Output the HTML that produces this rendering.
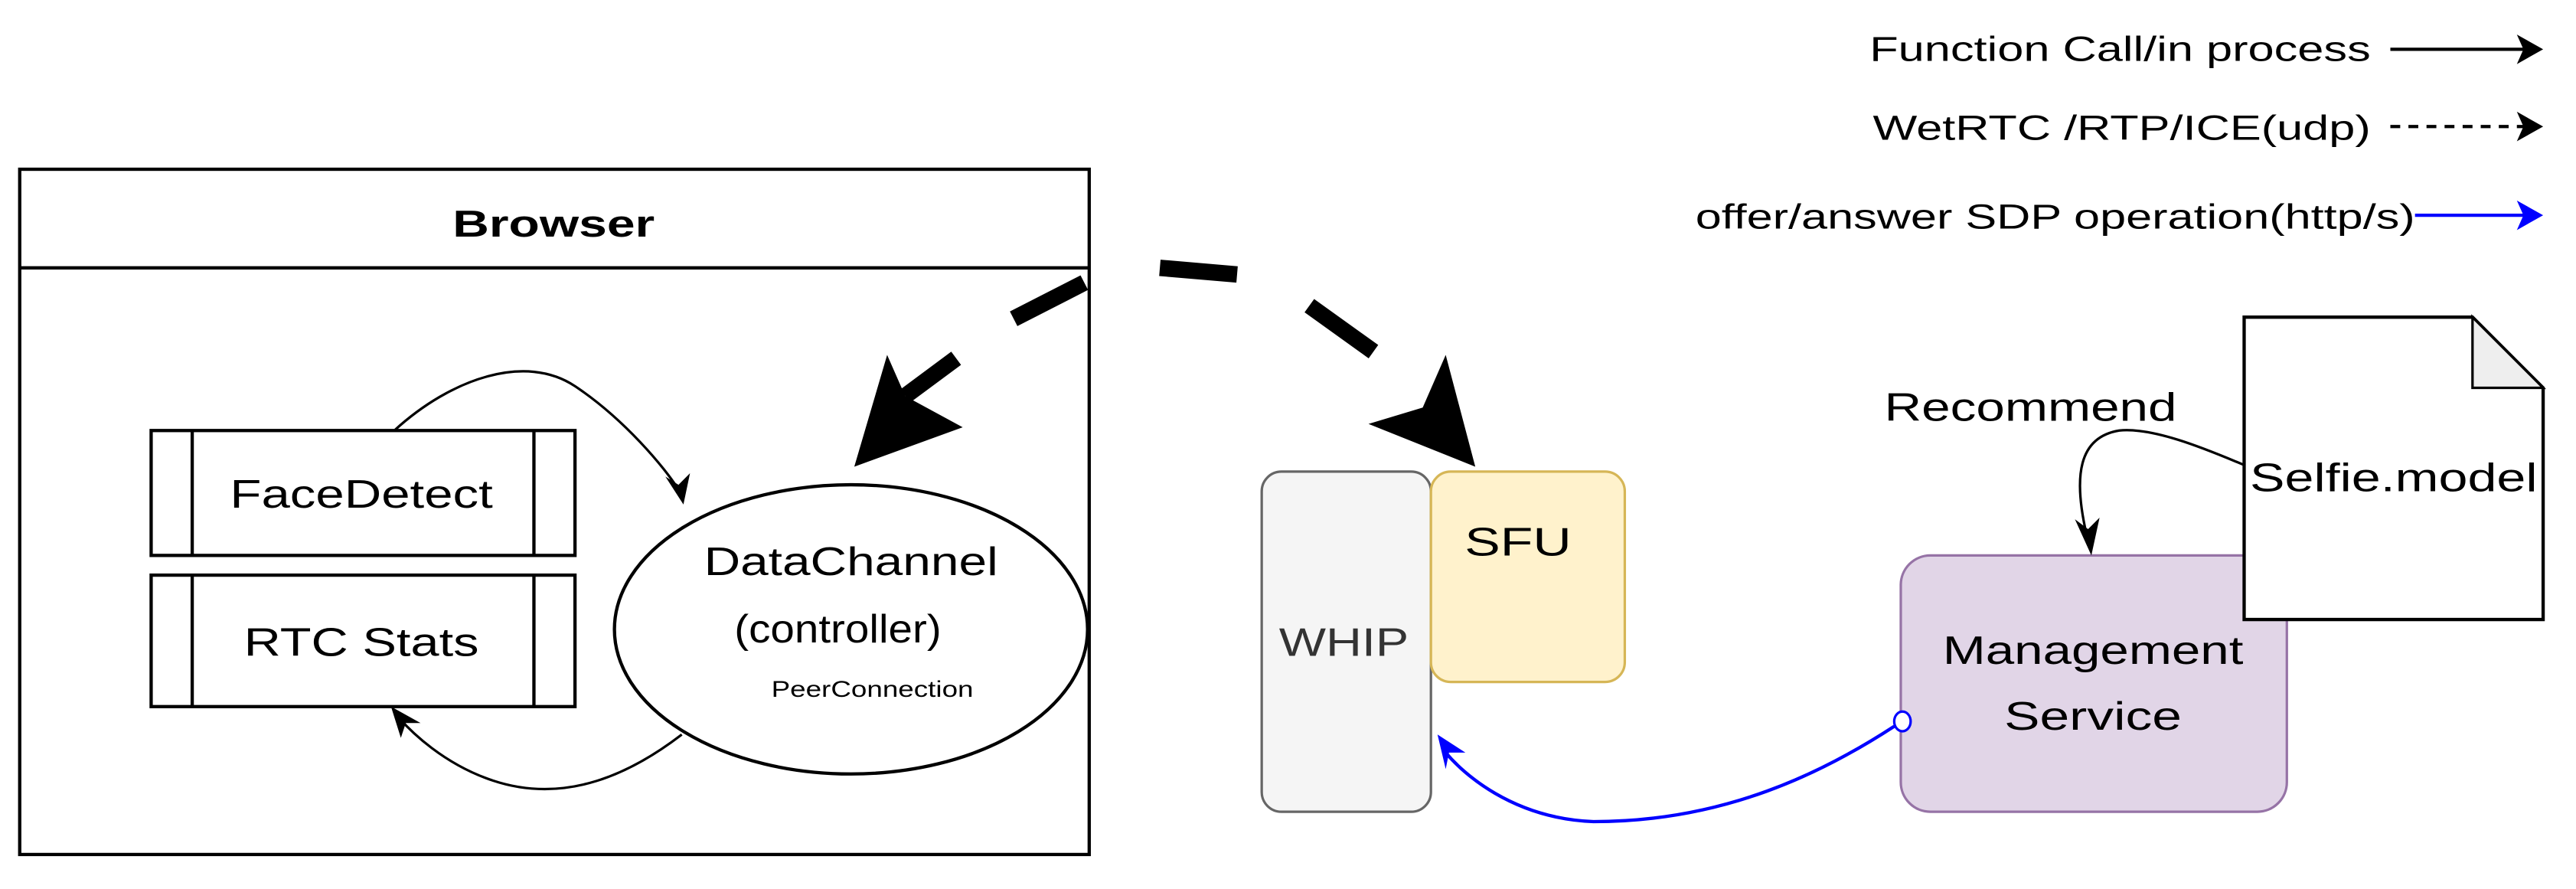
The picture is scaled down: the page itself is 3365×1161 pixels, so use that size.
<!DOCTYPE html>
<html><head><meta charset="utf-8"><style>
html,body{margin:0;padding:0;background:#fff;width:3365px;height:1161px;overflow:hidden}
svg{display:block}
text{font-family:"Liberation Sans",Arial,sans-serif;fill:#000}
</style></head><body>
<svg width="3365" height="1161" viewBox="0 0 1568 541" preserveAspectRatio="none" xmlns="http://www.w3.org/2000/svg">
<rect width="1568" height="541" fill="#fff"/>
<!-- Legend -->
<text x="1443" y="37" font-size="21" text-anchor="end" textLength="305" lengthAdjust="spacingAndGlyphs">Function Call/in process</text>
<line x1="1455" y1="30" x2="1538" y2="30" stroke="#000" stroke-width="2"/>
<polygon points="1548,30 1532,21 1536,30 1532,39" fill="#000"/>
<text x="1443" y="85" font-size="21" text-anchor="end" textLength="303" lengthAdjust="spacingAndGlyphs">WetRTC /RTP/ICE(udp)</text>
<line x1="1455" y1="77" x2="1538" y2="77" stroke="#000" stroke-width="2" stroke-dasharray="6,5"/>
<polygon points="1548,77 1532,68 1536,77 1532,86" fill="#000"/>
<text x="1470" y="139" font-size="21" text-anchor="end" textLength="438" lengthAdjust="spacingAndGlyphs">offer/answer SDP operation(http/s)</text>
<line x1="1470" y1="131" x2="1538" y2="131" stroke="#0000ff" stroke-width="2"/>
<polygon points="1548,131 1532,122 1536,131 1532,140" fill="#0000ff"/>

<!-- Browser -->
<rect x="12" y="103" width="651" height="417" fill="#fff" stroke="#000" stroke-width="2"/>
<line x1="12" y1="163" x2="663" y2="163" stroke="#000" stroke-width="2"/>
<text x="337" y="144" font-size="23" font-weight="bold" text-anchor="middle" textLength="123" lengthAdjust="spacingAndGlyphs">Browser</text>

<rect x="92" y="262" width="258" height="76" fill="#fff" stroke="#000" stroke-width="2"/>
<line x1="117" y1="262" x2="117" y2="338" stroke="#000" stroke-width="2"/>
<line x1="325" y1="262" x2="325" y2="338" stroke="#000" stroke-width="2"/>
<text x="220" y="309" font-size="24" text-anchor="middle" textLength="160" lengthAdjust="spacingAndGlyphs">FaceDetect</text>

<rect x="92" y="350" width="258" height="80" fill="#fff" stroke="#000" stroke-width="2"/>
<line x1="117" y1="350" x2="117" y2="430" stroke="#000" stroke-width="2"/>
<line x1="325" y1="350" x2="325" y2="430" stroke="#000" stroke-width="2"/>
<text x="220" y="399" font-size="24" text-anchor="middle" textLength="143" lengthAdjust="spacingAndGlyphs">RTC Stats</text>

<ellipse cx="518" cy="383" rx="144" ry="88" fill="#fff" stroke="#000" stroke-width="2"/>
<text x="518" y="350" font-size="24" text-anchor="middle" textLength="179" lengthAdjust="spacingAndGlyphs">DataChannel</text>
<text x="510" y="391" font-size="24" text-anchor="middle" textLength="126" lengthAdjust="spacingAndGlyphs">(controller)</text>
<text x="531" y="424" font-size="14" text-anchor="middle" textLength="123" lengthAdjust="spacingAndGlyphs">PeerConnection</text>

<!-- internal curved arrows -->
<path d="M240,262 C275,230 320,215 350,235 C380,255 405,285 413,298" fill="none" stroke="#000" stroke-width="1.5"/>
<polygon points="416,307 405,290 413,295 420,288" fill="#000"/>
<path d="M415,447 C385,470 345,490 300,475 C270,465 250,445 243,437" fill="none" stroke="#000" stroke-width="1.5"/>
<polygon points="238,430 256,440 247,440 244,449" fill="#000"/>

<!-- Big dashed WebRTC arrow -->
<g stroke="#000" stroke-width="10" stroke-linecap="butt" fill="none">
<line x1="551" y1="241" x2="582" y2="218"/>
<line x1="617" y1="194" x2="660" y2="172"/>
<line x1="706" y1="163" x2="753" y2="167"/>
<line x1="797" y1="186" x2="836" y2="214"/>
</g>
<polygon points="520,284 540,216 551,241 586,260" fill="#000"/>
<polygon points="898,284 880,216 866,248 833,258" fill="#000"/>

<!-- WHIP & SFU -->
<rect x="768" y="287" width="103" height="207" rx="12" fill="#f5f5f5" stroke="#666" stroke-width="1.5"/>
<text x="818" y="399" font-size="24" text-anchor="middle" style="fill:#333" textLength="79" lengthAdjust="spacingAndGlyphs">WHIP</text>
<rect x="871" y="287" width="118" height="128" rx="12" fill="#fff2cc" stroke="#d6b656" stroke-width="1.5"/>
<text x="924" y="338" font-size="24" text-anchor="middle" textLength="65" lengthAdjust="spacingAndGlyphs">SFU</text>

<!-- Management Service -->
<rect x="1157" y="338" width="235" height="156" rx="18" fill="#e1d5e7" stroke="#9673a6" stroke-width="1.5"/>
<text x="1274" y="404" font-size="24" text-anchor="middle" textLength="183" lengthAdjust="spacingAndGlyphs">Management</text>
<text x="1274" y="444" font-size="24" text-anchor="middle" textLength="108" lengthAdjust="spacingAndGlyphs">Service</text>

<!-- Selfie.model document -->
<path d="M1366,193 L1505,193 L1548,236 L1548,377 L1366,377 Z" fill="#fff" stroke="#000" stroke-width="2"/>
<path d="M1505,193 L1505,236 L1548,236 Z" fill="#eee" stroke="#000" stroke-width="1.5"/>
<text x="1457" y="299" font-size="24" text-anchor="middle" textLength="175" lengthAdjust="spacingAndGlyphs">Selfie.model</text>

<text x="1236" y="256" font-size="24" text-anchor="middle" textLength="178" lengthAdjust="spacingAndGlyphs">Recommend</text>
<path d="M1366,283 C1340,272 1310,260 1290,262 C1265,266 1262,290 1270,325" fill="none" stroke="#000" stroke-width="1.5"/>
<polygon points="1273,338 1263,316 1271,322 1278,315" fill="#000"/>

<!-- Blue SDP connector -->
<path d="M1153,442 C1110,470 1050,500 970,500 C920,498 890,470 880,458" fill="none" stroke="#0000ff" stroke-width="2"/>
<polygon points="875,447 892,458 882,458 880,468" fill="#0000ff"/>
<ellipse cx="1158" cy="439" rx="5" ry="6" fill="#fff" stroke="#0000ff" stroke-width="1.5"/>
</svg>
</body></html>
